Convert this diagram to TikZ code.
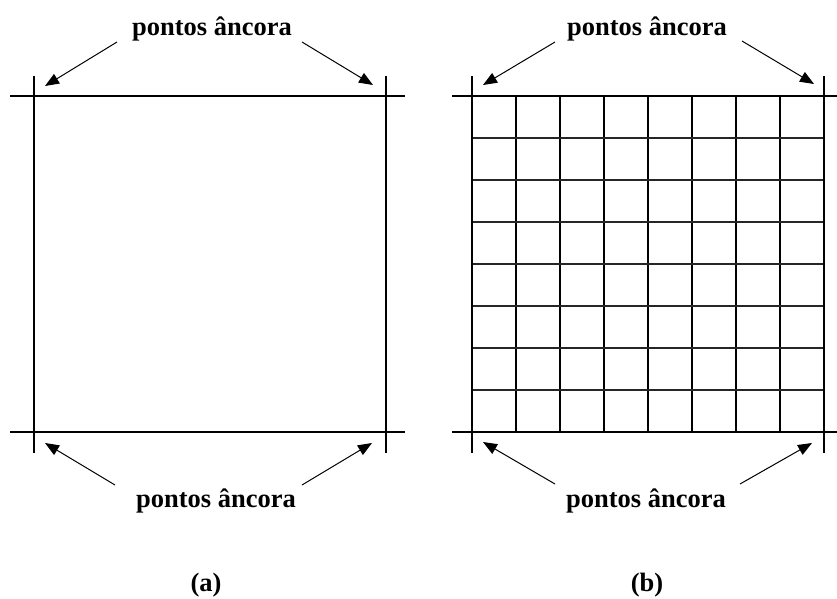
\documentclass[tikz,border=0pt]{standalone}
\usepackage{fontspec}
\setmainfont{Liberation Serif}
\usetikzlibrary{arrows.meta, positioning}

\begin{document}
\begin{tikzpicture}[
    x=1pt, y=-1pt,
    outer/.style={line width=1.8pt, black},
    guide/.style={line width=1.4pt, black},
    cellv/.style={line width=1.6pt, black},
    cellh/.style={line width=1.1pt, black!85},
    lbl/.style={font=\fontsize{26.5}{30}\selectfont\bfseries, inner sep=0pt, anchor=base},
    arr/.style={-{Triangle[length=14pt, width=11pt]}, line width=1pt, black},
]
\useasboundingbox (0,0) rectangle (837,598);

% ── Panel (a) ────────────────────────────
\draw[outer] (34,76) -- (34,453);
\draw[outer] (386,76) -- (386,453);
\draw[guide] (10,96) -- (405,96);
\draw[guide] (10,432) -- (405,432);

\node[lbl] (lblTopA) at (212,35) {pontos âncora};
\node[lbl] (lblBotA) at (216,507) {pontos âncora};
\node[lbl] (capA) at (206,591) {(a)};

\coordinate (tlA0) at (117,42);  \coordinate (tlA) at (45,86);
\coordinate (trA0) at (302,42);  \coordinate (trA) at (373,85);
\coordinate (blA0) at (115,485); \coordinate (blA) at (45,443);
\coordinate (brA0) at (302,485); \coordinate (brA) at (372,443);

% ── Panel (b) ────────────────────────────
\foreach \i in {1,...,7}
    \draw[cellv] (472+44*\i,96) -- (472+44*\i,432);
\foreach \j in {1,...,7}
    \draw[cellh] (472,96+42*\j) -- (824,96+42*\j);
\draw[outer] (472,76) -- (472,453);
\draw[outer] (824,76) -- (824,453);
\draw[guide] (452,96) -- (837,96);
\draw[guide] (452,432) -- (837,432);

\node[lbl] (lblTopB) at (647,35) {pontos âncora};
\node[lbl] (lblBotB) at (646,507) {pontos âncora};
\node[lbl] (capB) at (647,591) {(b)};

\coordinate (tlB0) at (555,42);  \coordinate (tlB) at (483,85);
\coordinate (trB0) at (742,41);  \coordinate (trB) at (814,84);
\coordinate (blB0) at (555,484); \coordinate (blB) at (483,442);
\coordinate (brB0) at (740,484); \coordinate (brB) at (812,443);

% ── Arrows to the anchor points ──────
\draw[arr] (tlA0) -- (tlA);
\draw[arr] (trA0) -- (trA);
\draw[arr] (blA0) -- (blA);
\draw[arr] (brA0) -- (brA);
\draw[arr] (tlB0) -- (tlB);
\draw[arr] (trB0) -- (trB);
\draw[arr] (blB0) -- (blB);
\draw[arr] (brB0) -- (brB);

\end{tikzpicture}
\end{document}
